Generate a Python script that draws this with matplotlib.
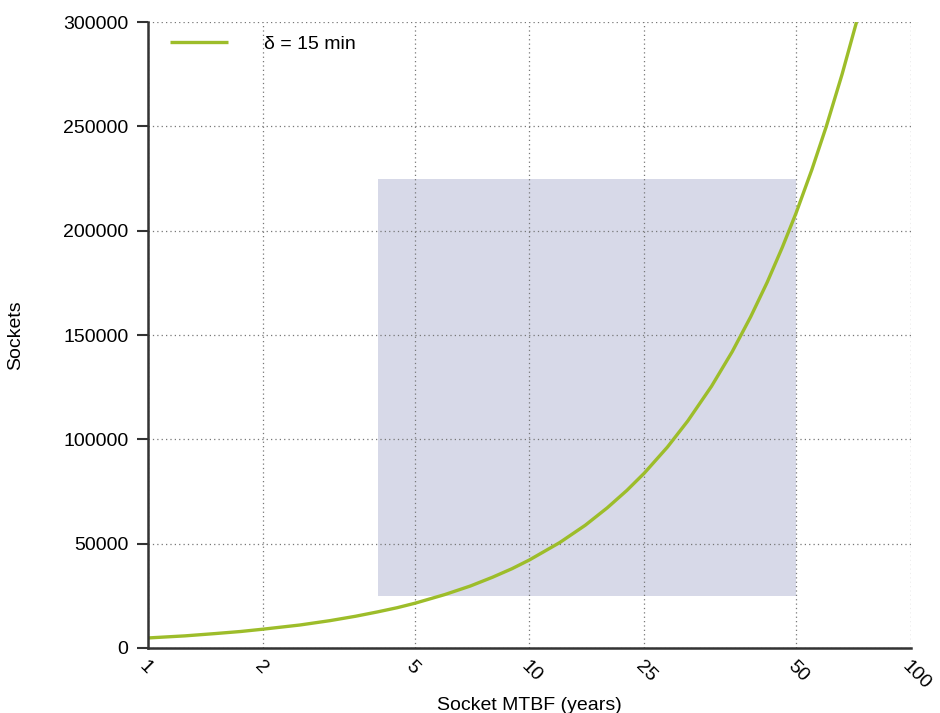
import matplotlib
matplotlib.use("Agg")
from matplotlib import pyplot as plt
from matplotlib.patches import Rectangle

# Socket MTBF (years) vs. number of sockets
mtbf_years = [1, 1.25, 1.5, 1.75, 2, 2.5, 3, 3.5, 4, 4.5, 5, 6, 7, 8, 9, 10,
              12, 14, 16, 18, 20, 23, 26, 30, 34, 38, 42, 46, 50, 55, 60,
              66, 72]
sockets = [4800, 5800, 6900, 7900, 9000, 11000, 13100, 15200, 17300, 19300,
           21400, 25600, 29700, 33900, 38000, 42200, 50500, 58800, 67200,
           75500, 83800, 96300, 108800, 125400, 142000, 158700, 175300,
           192000, 208500, 229300, 250000, 275000, 300000]

tick_pos = [1, 2, 5, 10, 20, 50, 100]
tick_labels = ['1', '2', '5', '10', '25', '50', '100']
y_ticks = [0, 50000, 100000, 150000, 200000, 250000, 300000]

# shaded region: x range and y range
region_x = (4, 50)
region_y = (25000, 225000)

plt.rcParams['font.family'] = ['Liberation Sans', 'DejaVu Sans']
plt.rcParams['font.size'] = 14

fig = plt.figure(figsize=(9.4, 7.13), dpi=100)
ax = fig.add_axes([0.1574, 0.0912, 0.9691 - 0.1574, 0.9691 - 0.0912])

ax.set_xscale('log')
ax.set_xlim(1, 100)
ax.set_ylim(0, 300000)

ax.add_patch(Rectangle((region_x[0], region_y[0]),
                       region_x[1] - region_x[0], region_y[1] - region_y[0],
                       facecolor='#d7d9e8', edgecolor='none', zorder=1))

ax.plot(mtbf_years, sockets, color='#9dbd2a', lw=2.4, zorder=3,
        label='\u03b4 = 15 min', solid_capstyle='butt')

ax.set_xticks(tick_pos)
ax.set_xticklabels(tick_labels, rotation=-45, ha='left', va='top',
                   rotation_mode='anchor')
ax.xaxis.set_minor_locator(matplotlib.ticker.NullLocator())
ax.set_yticks(y_ticks)
ax.set_yticklabels([str(v) for v in y_ticks])

ax.tick_params(axis='x', length=0, pad=7)
ax.tick_params(axis='y', length=8, width=1.5, color='#333333', pad=6)

ax.grid(True, linestyle=(0, (1, 2.5)), color='#777777', lw=0.9, zorder=2)
ax.set_axisbelow(False)
for s in ['top', 'right']:
    ax.spines[s].set_visible(False)
for s in ['left', 'bottom']:
    ax.spines[s].set_linewidth(1.8)
    ax.spines[s].set_color('#333333')
    ax.spines[s].set_zorder(4)

ax.set_xlabel('Socket MTBF (years)')
ax.set_ylabel('Sockets')
ax.xaxis.set_label_coords(0.5, -0.079)
ax.yaxis.set_label_coords(-0.162, 0.5)

ax.legend(loc='upper left', bbox_to_anchor=(0.0, 1.0145), frameon=False,
          handlelength=2.95, handletextpad=1.85, borderaxespad=0.75)

fig.savefig('out.png', dpi=100)
